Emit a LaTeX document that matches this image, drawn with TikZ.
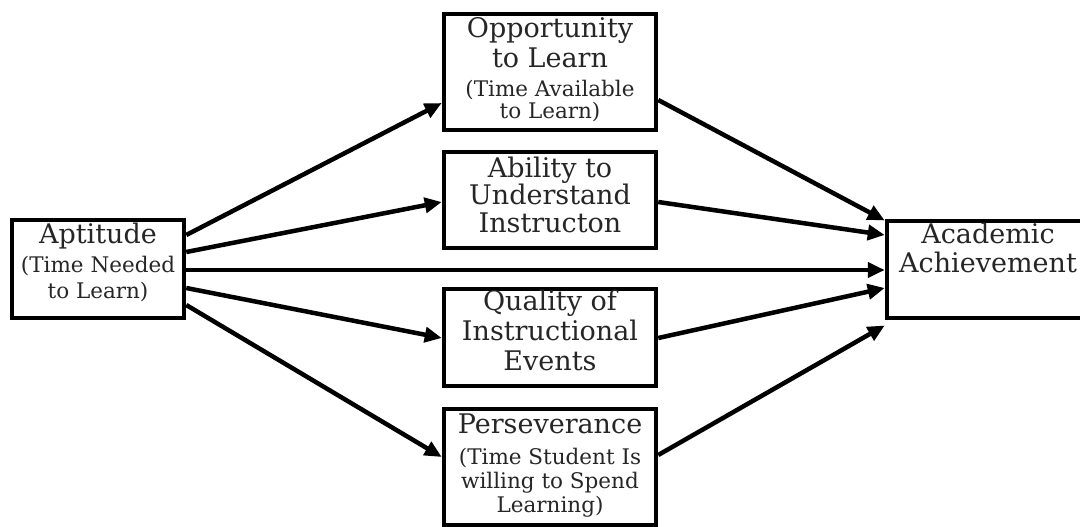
\documentclass[tikz,border=0pt]{standalone}
\usepackage{fontspec}
\setmainfont{DejaVu Serif}
\usetikzlibrary{arrows.meta,calc}
\begin{document}
\begin{tikzpicture}[x=1pt,y=-1pt]
\tikzset{
  box/.style={draw, line width=4.5pt, inner sep=0pt},
  maintxt/.style={font=\fontsize{27}{#1}\selectfont, align=center, anchor=base, inner sep=0pt, text=black!85},
  maintxt/.default=29,
  subtxt/.style={font=\fontsize{21.5}{#1}\selectfont, align=center, anchor=base, inner sep=0pt, text=black!85},
  link/.style={line width=4.5pt, -{Triangle[length=17pt,width=15pt]}},
}
\useasboundingbox (0,0) rectangle (1080,527);
\clip (0,0) rectangle (1080,527);
% boxes
\node[box, minimum width=172pt, minimum height=98pt] (apt) at (98,269) {};
\node[box, minimum width=212pt, minimum height=116pt] (opp) at (550,72) {};
\node[box, minimum width=212pt, minimum height=96pt] (abl) at (550,200) {};
\node[box, minimum width=212pt, minimum height=97pt] (qua) at (550,337.5) {};
\node[box, minimum width=212pt, minimum height=116pt] (per) at (550,467) {};
\node[box, minimum width=203pt, minimum height=97pt] (aca) at (988.5,269.5) {};
% texts (anchored at the baseline of the last line)
\node[maintxt] (aptA) at (98,243) {Aptitude};
\node[subtxt=26] (aptB) at (98,298) {(Time Needed\\to Learn)};
\node[maintxt=30] (oppA) at (550,67) {Opportunity\\to Learn};
\node[subtxt=21] (oppB) at (550,118) {(Time Available\\to Learn)};
\node[maintxt=27.5] (ablA) at (550,232) {Ability to\\Understand\\Instructon};
\node[maintxt=30] (quaA) at (550,370) {Quality of\\Instructional\\Events};
\node[maintxt] (perA) at (550,433) {Perseverance};
\node[subtxt=24] (perB) at (550,512) {(Time Student Is\\willing to Spend\\Learning)};
\node[maintxt=29] (acaA) at (988,272) {Academic\\Achievement};
% connectors from Aptitude
\draw[link] ($(apt.east)+(0,-34)$) -- ($(opp.west)+(0,31)$);
\draw[link] ($(apt.east)+(0,-17)$) -- ($(abl.west)+(0,2)$);
\draw[link] ($(apt.east)+(0,1)$) -- ($(aca.west)+(0,0.5)$);
\draw[link] ($(apt.east)+(0,19)$) -- ($(qua.west)+(0,0.5)$);
\draw[link] ($(apt.east)+(0,36)$) -- ($(per.west)+(0,-10)$);
% connectors to Academic Achievement
\draw[link] ($(opp.east)+(0,28)$) -- ($(aca.west)+(0,-49)$);
\draw[link] ($(abl.east)+(0,2)$) -- ($(aca.west)+(0,-34.5)$);
\draw[link] ($(qua.east)+(0,0.5)$) -- ($(aca.west)+(0,18.5)$);
\draw[link] ($(per.east)+(0,-12)$) -- ($(aca.west)+(0,56)$);
\end{tikzpicture}
\end{document}
